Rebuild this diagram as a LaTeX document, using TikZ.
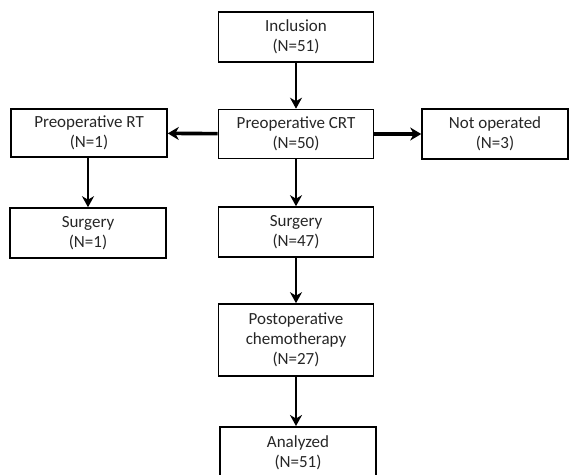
\documentclass[tikz,border=0pt]{standalone}
\usepackage{fontspec}
\setmainfont{Carlito}
\usetikzlibrary{arrows.meta}
\begin{document}
\begin{tikzpicture}[x=1pt,y=-1pt,
  box/.style={draw=black, line width=1.6pt, align=center, inner sep=0pt,
    font=\fontsize{17}{20}\selectfont, text=black!85},
  arr/.style={line width=2.6pt, -{Stealth[length=11pt,width=12pt,inset=3.5pt]}},
  harr/.style={line width=3.6pt, -{Stealth[length=11pt,width=13pt,inset=3.5pt]}}]
\useasboundingbox (0,0) rectangle (572,474);
\clip (0,0) rectangle (572,474);
\node[box, minimum width=155pt, minimum height=50pt] (inc) at (296,37) {Inclusion\\(N=51)};
\node[box, minimum width=155pt, minimum height=49pt] (crt) at (296,134) {Preoperative CRT\\(N=50)};
\node[box, minimum width=156pt, minimum height=48pt] (rt) at (89,133) {Preoperative RT\\(N=1)};
\node[box, minimum width=146pt, minimum height=50pt] (no) at (495,134) {Not operated\\(N=3)};
\node[box, minimum width=156pt, minimum height=50pt] (s1) at (88,233) {Surgery\\(N=1)};
\node[box, minimum width=155pt, minimum height=50pt] (s47) at (296,232) {Surgery\\(N=47)};
\node[box, minimum width=155pt, minimum height=72pt] (post) at (296,340) {Postoperative\\chemotherapy\\(N=27)};
\node[box, minimum width=156pt, minimum height=52pt, anchor=north] (ana) at (298,426) {Analyzed\\(N=51)};
\draw[arr] (inc) -- (crt);
\draw[harr] (crt) -- (rt);
\draw[harr] (crt) -- (no);
\draw[arr] (rt.south -| s1) -- (s1);
\draw[arr] (crt) -- (s47);
\draw[arr] (s47) -- (post);
\draw[arr] (post.south) -- (post.south |- ana.north);
\end{tikzpicture}
\end{document}
